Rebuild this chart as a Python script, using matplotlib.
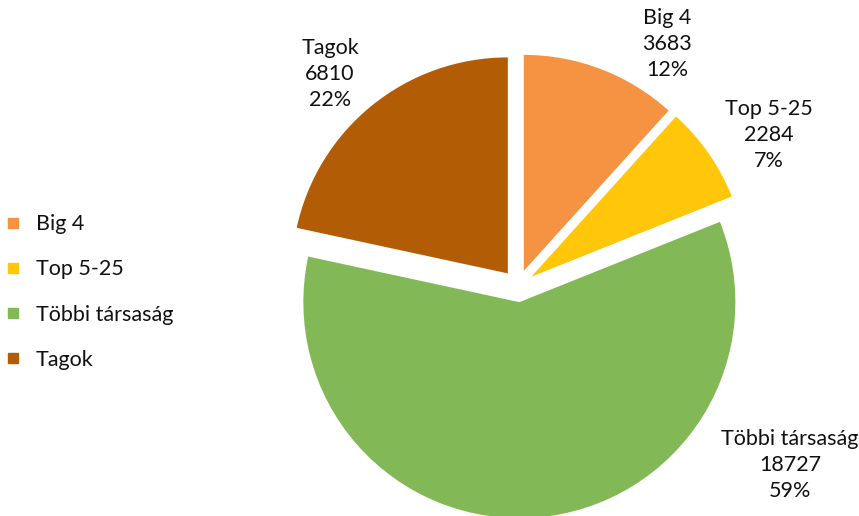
import matplotlib.pyplot as plt
from matplotlib.lines import Line2D

# data
categories = ["Big 4", "Top 5-25", "Többi társaság", "Tagok"]
counts = [3683, 2284, 18727, 6810]
percents = ["12%", "7%", "59%", "22%"]
colors = ["#F59342", "#FFC60A", "#82B956", "#B35C06"]

# label anchor positions (in pie radius units, relative to pie center)
label_pos = [(0.69, 1.12), (1.16, 0.70), (1.26, -0.83), (-0.87, 0.98)]

plt.rcParams["font.family"] = ["Lato", "DejaVu Sans"]

W, H = 859, 516
fig = plt.figure(figsize=(W / 100, H / 100), dpi=100)
ax = fig.add_axes([0, 0, 1, 1])

# pie center / radius in pixels
cx, cy, r = 518, 286, 216

wedges, _ = ax.pie(counts, colors=colors, startangle=90, counterclock=False,
                   explode=[0.075] * len(counts), radius=1.0,
                   wedgeprops=dict(linewidth=0))

ax.set_xlim(-cx / r, (W - cx) / r)
ax.set_ylim(-(H - cy) / r, cy / r)
ax.set_aspect("auto")
ax.axis("off")

for cat, n, p, (lx, ly) in zip(categories, counts, percents, label_pos):
    ax.text(lx, ly, f"{cat}\n{n}\n{p}", ha="center", va="center",
            fontsize=15.5, linespacing=1.38, color="#111111")

handles = [Line2D([0], [0], marker="s", linestyle="none", markersize=6.5,
                  markerfacecolor=c, markeredgecolor=c) for c in colors]
fig.legend(handles, categories, loc="upper left", bbox_to_anchor=(-0.012, 0.61),
           frameon=False, fontsize=15.5, labelspacing=1.17, handletextpad=0.55,
           handlelength=1.0, borderaxespad=0.2, labelcolor="#111111")

fig.savefig("out.png", dpi=100)
